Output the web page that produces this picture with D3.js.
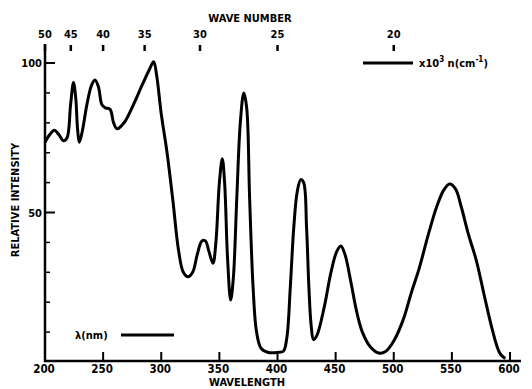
<!DOCTYPE html>
<html>
<head>
<meta charset="utf-8">
<script src="https://cdn.jsdelivr.net/npm/d3@7"></script>
<style>
body{margin:0;background:#fff}
svg text{font-family:"DejaVu Sans Condensed","DejaVu Sans",sans-serif;font-weight:bold;fill:#000}
.trace{fill:none;stroke:#000;stroke-width:3;stroke-linejoin:round}
</style>
</head>
<body>
<div id="chart"></div>
<script>
var wavelength=[200,204,208,212,216,219,222,224.5,226.5,228,229.5,232,236,240,243,246,249,252,256,259,262,268,276,284,290,293.5,296,300,305,310,315,319,323,327,331,335,338,341,344.5,347,350,352.5,354.5,357,359.7,362,365,368,371,373.5,376,379,382,386,392,400,405,408,411,414,417,420,422.5,425,427,429,431,434,440,446,451,454.5,458,463,468,473,480,487,493,500,508,515,522,530,537,543,548,553,558,564,571,578,584,589,592,596]
var intensity=[73.5,76,77.5,76,74,75,86,93.5,88,78,73.5,77,86,92.5,94.3,92,86,85,84.5,80,78,80,86,93,98,100.4,96,83,70,54,37,30,28.5,30,36,40.5,40.5,37,33,40,60,68,60,35,20.7,28,55,80,90,85,55,25,10,4.5,3.2,3.2,3.6,8,25,45,57,61,60,45,25,12,7.5,9,18,30,37,38.8,36,27,17,10,5,3,3.5,7,14,23,31.5,43,52,57.5,59.5,58,52,43,34,22,12,5,2.5,1.2]

var xTicks=[200,250,300,350,400,450,500,550,600]
var yLabels=[50,100]
var yMinor=[10,20,30,40,60,70,80,90]
var waveNumbers=[50,45,40,35,30,25,20]

function MakeChart(container){
    var W=532,H=389
    var svg=d3.select(container).append('svg')
	.attr('width',W)
	.attr('height',H)

    var x=d3.scaleLinear().domain([200,600]).range([45,510])
    var y=d3.scaleLinear().domain([0,100]).range([362,63])

    // axes lines
    svg.append('line')
	.attr('x1',45).attr('x2',45).attr('y1',44).attr('y2',362)
	.attr('stroke','#000').attr('stroke-width',2.5)
    svg.append('line')
	.attr('x1',44).attr('x2',521).attr('y1',361).attr('y2',361)
	.attr('stroke','#000').attr('stroke-width',2.5)

    // bottom ticks + labels
    svg.selectAll('.xt').data(xTicks.slice(1)).enter().append('line')
	.attr('x1',x).attr('x2',x).attr('y1',352).attr('y2',361)
	.attr('stroke','#000').attr('stroke-width',2)
    svg.selectAll('.xl').data(xTicks).enter().append('text')
	.attr('x',function(d){return x(d)-1})
	.attr('y',373)
	.attr('text-anchor','middle')
	.attr('font-size',11.5)
	.text(function(d){return d})
    svg.append('text')
	.attr('x',247).attr('y',386)
	.attr('text-anchor','middle')
	.attr('font-size',11)
	.text('WAVELENGTH')

    // left ticks + labels
    svg.selectAll('.yt').data(yLabels).enter().append('line')
	.attr('x1',45).attr('x2',55).attr('y1',y).attr('y2',y)
	.attr('stroke','#000').attr('stroke-width',2)
    svg.selectAll('.ym').data(yMinor).enter().append('line')
	.attr('x1',45).attr('x2',50).attr('y1',y).attr('y2',y)
	.attr('stroke','#000').attr('stroke-width',1.5)
    svg.selectAll('.yl').data(yLabels).enter().append('text')
	.attr('x',42).attr('y',function(d){return y(d)+4})
	.attr('text-anchor','end')
	.attr('font-size',11)
	.text(function(d){return d})
    svg.append('text')
	.attr('transform','translate(19,200) rotate(-90)')
	.attr('text-anchor','middle')
	.attr('font-size',11)
	.text('RELATIVE  INTENSITY')

    // top wave number axis
    function wx(n){return x(10000/n)}
    svg.selectAll('.wt').data(waveNumbers).enter().append('line')
	.attr('x1',wx).attr('x2',wx).attr('y1',45).attr('y2',51)
	.attr('stroke','#000').attr('stroke-width',2.5)
    svg.selectAll('.wl').data(waveNumbers).enter().append('text')
	.attr('x',wx).attr('y',38)
	.attr('text-anchor','middle')
	.attr('font-size',11)
	.text(function(d){return d})
    svg.append('text')
	.attr('x',250).attr('y',22)
	.attr('text-anchor','middle')
	.attr('font-size',11)
	.text('WAVE  NUMBER')

    // legend marks
    svg.append('line')
	.attr('x1',363).attr('x2',413).attr('y1',63).attr('y2',63)
	.attr('stroke','#000').attr('stroke-width',3)
    var t=svg.append('text').attr('x',419).attr('y',67).attr('font-size',11)
    t.append('tspan').text('x10')
    t.append('tspan').attr('dy',-5).attr('font-size',8).text('3')
    t.append('tspan').attr('dy',5).text(' n(cm')
    t.append('tspan').attr('dy',-5).attr('font-size',8).text('-1')
    t.append('tspan').attr('dy',5).text(')')

    svg.append('text').attr('x',75).attr('y',339).attr('font-size',11).text('λ(nm)')
    svg.append('line')
	.attr('x1',121).attr('x2',174).attr('y1',335).attr('y2',335)
	.attr('stroke','#000').attr('stroke-width',3)

    var data=wavelength.map(function(d,i){return [d,intensity[i]]})
    var path=d3.line()
	.x(function(d){return x(d[0])})
	.y(function(d){return y(d[1])})
	.curve(d3.curveCatmullRom.alpha(0.5))
    svg.append('path')
	.datum(data)
	.attr('class','trace')
	.attr('d',path)
}

MakeChart('#chart')
</script>
</body>
</html>
